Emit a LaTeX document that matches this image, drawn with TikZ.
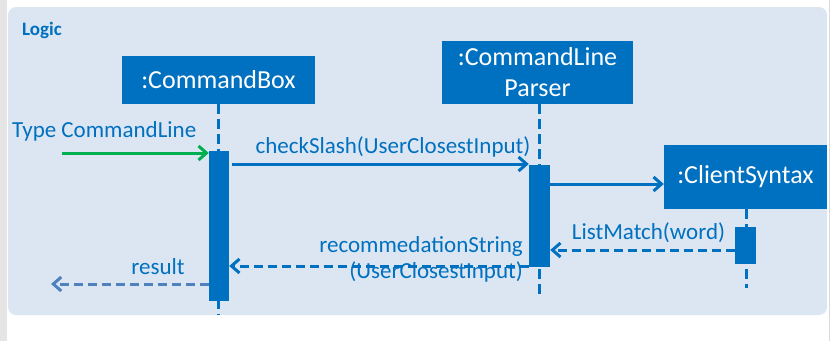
\documentclass[tikz,border=0pt]{standalone}
\usepackage{fontspec}
\setmainfont{Carlito}
\usetikzlibrary{arrows.meta}

\definecolor{umlblue}{HTML}{0070C0}
\definecolor{panelblue}{HTML}{DCE6F2}
\definecolor{usergreen}{HTML}{00B050}
\definecolor{retblue}{HTML}{4F81BD}

\begin{document}
\begin{tikzpicture}[x=1pt,y=-1pt]
      \useasboundingbox (0,0) rectangle (831,341);
      \tikzset{ObjStyle/.style = {fill=umlblue, text=white, inner sep=0pt, align=center,
                                  font=\fontsize{26}{31}\selectfont},
               LifeStyle/.style = {umlblue, line width=3pt, dash pattern=on 10pt off 5pt},
               ActStyle/.style = {fill=umlblue, inner sep=0pt, minimum width=20pt},
               MsgStyle/.style = {umlblue, line width=3pt, -{Straight Barb[length=8pt,width=14pt]}},
               RetStyle/.style = {MsgStyle, dash pattern=on 9pt off 5pt},
               LabelStyle/.style = {text=umlblue, inner sep=0pt, font=\fontsize{23}{26}\selectfont}}

      % Frame
      \fill[gray!20] (0,0) rectangle (7,341);
      \draw[gray!30, line width=1pt] (829.5,0) -- (829.5,341);
      \fill[panelblue, rounded corners=8pt] (8,7) rectangle (827,315);
      \node[anchor=west, text=umlblue, inner sep=0pt, font=\fontsize{19}{22}\selectfont\bfseries]
            (logic) at (22,30) {Logic};

      % Objects
      \node[ObjStyle, minimum width=193pt, minimum height=48pt] (box) at (218.5,80) {:CommandBox};
      \node[ObjStyle, minimum width=191pt, minimum height=63pt] (parser) at (537.5,72.5) {:CommandLine\\Parser};
      \node[ObjStyle, minimum width=163pt, minimum height=64pt] (syntax) at (745.5,177) {:ClientSyntax};

      % Lifelines
      \coordinate (boxend) at (218.5,315);
      \coordinate (parserend) at (539,299);
      \coordinate (syntaxend) at (746,288);
      \draw[LifeStyle] (box.south) -- (boxend);
      \draw[LifeStyle] (parser.south -| parserend) -- (parserend);
      \draw[LifeStyle] (syntax.south -| syntaxend) -- (syntaxend);

      % Activations
      \node[ActStyle, minimum height=150pt] (boxact) at (219,225.5) {};
      \node[ActStyle, minimum width=21pt, minimum height=102pt] (parseract) at (539.5,216) {};
      \node[ActStyle, minimum width=21pt, minimum height=37pt] (syntaxact) at (745.5,245.5) {};

      % Messages
      \coordinate (user) at (62,153);
      \coordinate (m1) at (0,164);
      \coordinate (m2) at (0,184);
      \coordinate (m3) at (0,250);
      \coordinate (m4) at (0,266);
      \coordinate (caller) at (51,284);
      \draw[MsgStyle, usergreen] (user) -- (boxact.west |- user);
      \draw[MsgStyle, shorten <=3pt] (boxact.east |- m1) -- (parseract.west |- m1);
      \draw[MsgStyle] (parseract.east |- m2) -- (syntax.west |- m2);
      \draw[RetStyle] (syntaxact.west |- m3) -- (parseract.east |- m3);
      \draw[RetStyle] (parseract.west |- m4) -- (boxact.east |- m4);
      \draw[RetStyle, retblue] (boxact.west |- caller) -- (caller);

      % Labels
      \node[LabelStyle, anchor=west] (typelbl) at (12,131) {Type CommandLine};
      \node[LabelStyle] (checklbl) at (393,147) {checkSlash(UserClosestInput)};
      \node[LabelStyle] (matchlbl) at (648.5,233) {ListMatch(word)};
      \node[LabelStyle, anchor=east, align=right] (reclbl) at (523,259) {recommedationString\\(UserClosestInput)};
      \node[LabelStyle] (resultlbl) at (158,267) {result};
\end{tikzpicture}
\end{document}
